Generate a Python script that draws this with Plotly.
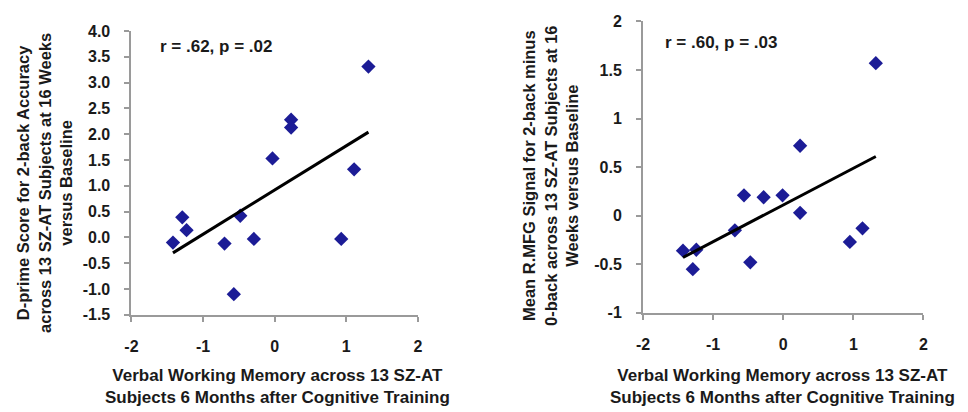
import plotly.graph_objects as go

# Shared x values (Verbal Working Memory)
vwm = [-1.42, -1.29, -1.23, -0.70, -0.57, -0.48, -0.29, -0.03, 0.23, 0.23, 0.93, 1.11, 1.31]
# Left panel: D-prime for 2-back accuracy (paired by index with vwm)
dprime = [-0.10, 0.39, 0.14, -0.12, -1.10, 0.42, -0.03, 1.53, 2.28, 2.13, -0.03, 1.32, 3.31]
# Right panel: Mean R.MFG signal (own ordering, x values read separately)
vwm_r = [-1.43, -1.24, -1.29, -0.69, -0.56, -0.47, -0.28, -0.01, 0.24, 0.24, 0.95, 1.13, 1.32]
rmfg = [-0.36, -0.35, -0.55, -0.15, 0.21, -0.48, 0.19, 0.21, 0.72, 0.03, -0.27, -0.13, 1.57]

# Trend line end points
trend_x_left = [-1.42, 1.31]
trend_y_left = [-0.30, 2.04]
trend_x_right = [-1.43, 1.32]
trend_y_right = [-0.43, 0.61]

left_yticks = [4.0, 3.5, 3.0, 2.5, 2.0, 1.5, 1.0, 0.5, 0.0, -0.5, -1.0, -1.5]
left_yticklabels = ["4.0", "3.5", "3.0", "2.5", "2.0", "1.5", "1.0", "0.5", "0.0", "-0.5", "-1.0", "-1.5"]
right_yticks = [2, 1.5, 1, 0.5, 0, -0.5, -1]
right_yticklabels = ["2", "1.5", "1", "0.5", "0", "-0.5", "-1"]
xticks = [-2, -1, 0, 1, 2]
xticklabels = ["-2", "-1", "0", "1", "2"]

FONT = "Liberation Sans, Arial, sans-serif"
MARK = "#1c1c96"
AXC = "#9a9a9a"
TXT = "#1a1a1a"

fig = go.Figure()
fig.add_trace(go.Scatter(x=vwm, y=dprime, mode="markers",
                         marker=dict(symbol="diamond", size=11, color=MARK),
                         xaxis="x", yaxis="y", showlegend=False))
fig.add_trace(go.Scatter(x=trend_x_left, y=trend_y_left, mode="lines",
                         line=dict(color="black", width=3),
                         xaxis="x", yaxis="y", showlegend=False))
fig.add_trace(go.Scatter(x=vwm_r, y=rmfg, mode="markers",
                         marker=dict(symbol="diamond", size=11, color=MARK),
                         xaxis="x2", yaxis="y2", showlegend=False))
fig.add_trace(go.Scatter(x=trend_x_right, y=trend_y_right, mode="lines",
                         line=dict(color="black", width=3),
                         xaxis="x2", yaxis="y2", showlegend=False))

W, H = 968, 412

def axis_common():
    return dict(showgrid=False, zeroline=False, showline=True, linecolor=AXC,
                linewidth=2, ticks="outside", ticklen=5, tickwidth=2, tickcolor=AXC,
                tickfont=dict(family=FONT, size=16, color=TXT, weight="bold"))

xa = axis_common(); xa.update(domain=[126/W, 416/W], range=[-2, 2], tickvals=xticks,
                               ticktext=xticklabels, anchor="y", ticklabelstandoff=11)
ya = axis_common(); ya.update(domain=[(H-320)/H, (H-24)/H], range=[-1.5, 4.0],
                               tickvals=left_yticks, ticktext=left_yticklabels, anchor="x",
                               ticklabelstandoff=11)
xa2 = axis_common(); xa2.update(domain=[644/W, 928/W], range=[-2, 2], tickvals=xticks,
                                 ticktext=xticklabels, anchor="y2", ticklabelstandoff=11)
ya2 = axis_common(); ya2.update(domain=[(H-318)/H, (H-14)/H], range=[-1, 2],
                                 tickvals=right_yticks, ticktext=right_yticklabels, anchor="x2",
                                 ticklabelstandoff=11)

tfont = dict(family=FONT, size=17, color=TXT, weight="bold")
yfont = dict(family=FONT, size=16.5, color=TXT, weight="bold")
annotations = [
    dict(text="r = .62, p = .02", x=153/W, y=(H-40)/H, xref="paper", yref="paper",
         xanchor="left", yanchor="middle", showarrow=False, font=tfont),
    dict(text="r = .60, p = .03", x=664/W, y=(H-36)/H, xref="paper", yref="paper",
         xanchor="left", yanchor="middle", showarrow=False, font=tfont),
    dict(text="Verbal Working Memory across 13 SZ-AT<br>Subjects 6 Months after Cognitive Training",
         x=274/W, y=(H-395)/H, xref="paper", yref="paper", xanchor="center", yanchor="middle",
         showarrow=False, font=tfont),
    dict(text="Verbal Working Memory across 13 SZ-AT<br>Subjects 6 Months after Cognitive Training",
         x=785/W, y=(H-395)/H, xref="paper", yref="paper", xanchor="center", yanchor="middle",
         showarrow=False, font=tfont),
    dict(text="D-prime Score for 2-back Accuracy<br>across 13 SZ-AT Subjects at 16 Weeks<br>versus Baseline",
         x=38/W, y=(H-183)/H, xref="paper", yref="paper", xanchor="center", yanchor="middle",
         textangle=-90, showarrow=False, font=yfont),
    dict(text="Mean R.MFG Signal for 2-back minus<br>0-back across 13 SZ-AT Subjects at 16<br>Weeks versus Baseline",
         x=551/W, y=(H-175)/H, xref="paper", yref="paper", xanchor="center", yanchor="middle",
         textangle=-90, showarrow=False, font=yfont),
]

fig.update_layout(width=W, height=H, margin=dict(l=0, r=0, t=0, b=0),
                  paper_bgcolor="white", plot_bgcolor="white",
                  xaxis=xa, yaxis=ya, xaxis2=xa2, yaxis2=ya2,
                  annotations=annotations, showlegend=False)

fig.write_html("out.html")
